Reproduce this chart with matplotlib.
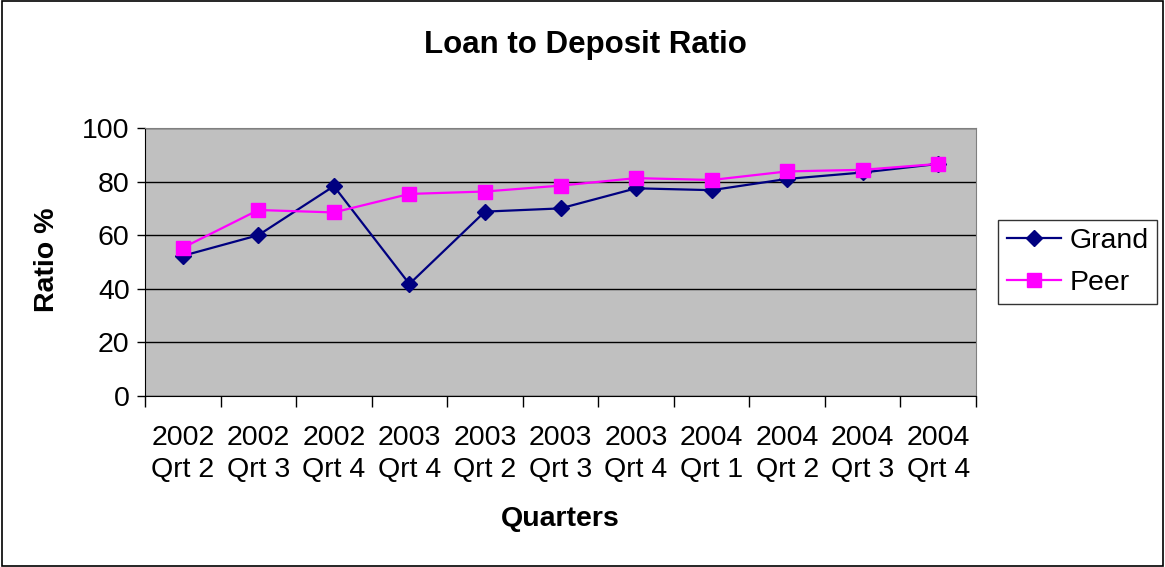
import matplotlib
matplotlib.use("Agg")
import matplotlib.pyplot as plt
import numpy as np

plt.rcParams['font.family'] = ['Liberation Sans', 'DejaVu Sans']

quarters = ["2002\nQrt 2", "2002\nQrt 3", "2002\nQrt 4", "2003\nQrt 4", "2003\nQrt 2",
            "2003\nQrt 3", "2003\nQrt 4", "2004\nQrt 1", "2004\nQrt 2", "2004\nQrt 3",
            "2004\nQrt 4"]
grand = [52.3, 60.0, 78.3, 41.8, 68.8, 70.0, 77.5, 76.8, 81.0, 83.4, 86.6]
peer = [55.3, 69.4, 68.5, 75.4, 76.3, 78.5, 81.3, 80.6, 83.8, 84.4, 86.6]

fig = plt.figure(figsize=(11.65, 5.67), dpi=100)
ax = fig.add_axes([145/1165, 1 - 396/567, (976-145)/1165, (396-128)/567])

x = np.arange(len(quarters))
ax.plot(x, grand, color="#000080", marker="D", markersize=8, linewidth=1.6, label="Grand")
ax.plot(x, peer, color="#FF00FF", marker="s", markersize=10, linewidth=1.6, label="Peer")

ax.set_facecolor("#C0C0C0")
ax.set_xlim(-0.5, len(quarters) - 0.5)
ax.set_ylim(0, 100)
ax.set_yticks([0, 20, 40, 60, 80, 100])
ax.yaxis.grid(True, color="black", linewidth=1)
ax.set_axisbelow(True)

ax.set_xticks(x)
ax.set_xticklabels(quarters, fontsize=20.5, linespacing=1.3)
ax.set_xticks(np.arange(-0.5, len(quarters)), minor=True)
ax.tick_params(axis="x", which="major", length=0, pad=21)
ax.tick_params(axis="x", which="minor", length=8, width=1, direction="out")
ax.tick_params(axis="y", length=6, width=1, direction="out", labelsize=20.5, pad=5)

for s in ["top", "right"]:
    ax.spines[s].set_color("#808080")
ax.spines["left"].set_color("black")
ax.spines["bottom"].set_color("black")

fig.text(585/1165, 1 - 45/567, "Loan to Deposit Ratio", ha="center", va="center",
         fontsize=22.5, fontweight="bold")
fig.text(560/1165, 1 - 519/567, "Quarters", ha="center", va="center",
         fontsize=20.5, fontweight="bold")
fig.text(47/1165, 1 - 260/567, "Ratio %", ha="center", va="center",
         fontsize=20.5, fontweight="bold", rotation=90)

leg = ax.legend(loc="center left", bbox_to_anchor=(998/831 - 145/831, 0.5), fontsize=20.5,
                frameon=True, fancybox=False, edgecolor="black", handlelength=1.9,
                borderpad=0.3, labelspacing=0.55, handletextpad=0.3, borderaxespad=0)
leg.get_frame().set_linewidth(1)

fig.patches.append(plt.Rectangle((0.002, 0.002), 0.996, 0.996, transform=fig.transFigure,
                                 fill=False, edgecolor="black", linewidth=1.2))

fig.savefig("out.png", dpi=100)
